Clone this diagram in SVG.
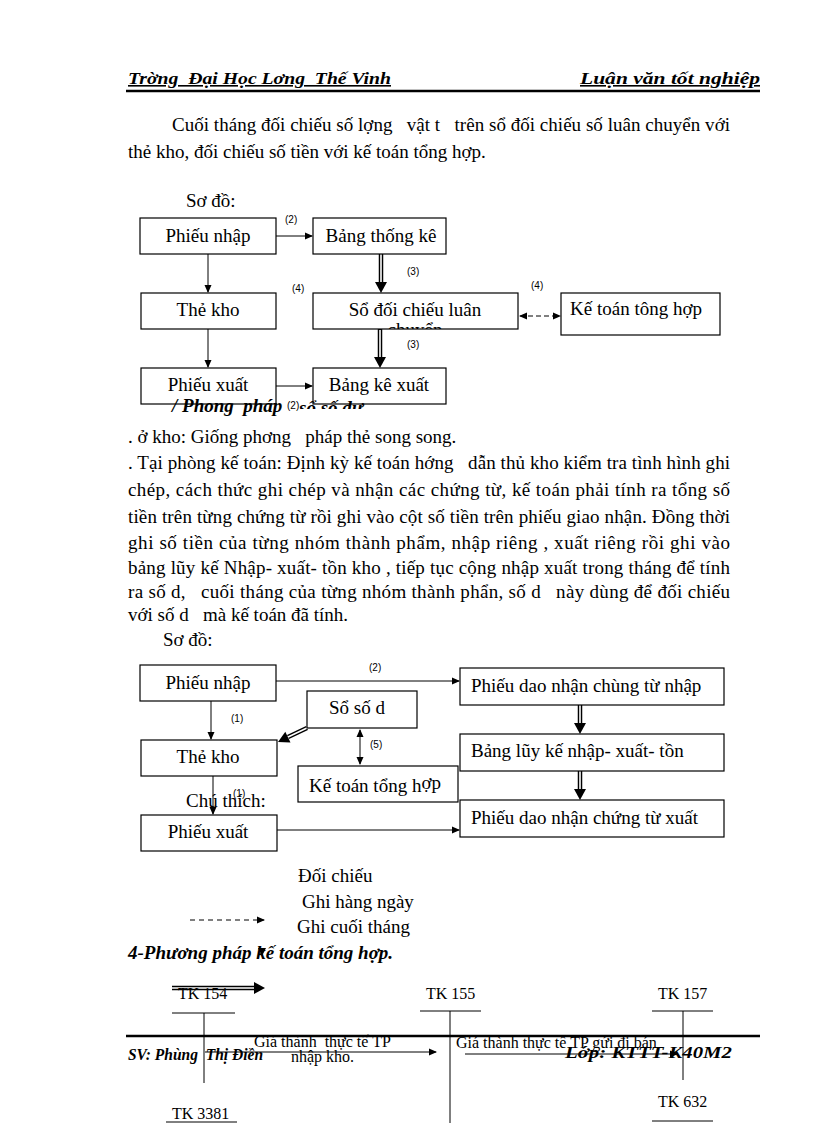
<svg xmlns="http://www.w3.org/2000/svg" width="816" height="1123" viewBox="0 0 816 1123">
<defs>
<marker id="ah" markerWidth="8" markerHeight="8" refX="7" refY="4" orient="auto" markerUnits="userSpaceOnUse"><path d="M0,0.5 L8,4 L0,7.5 Z" fill="#000"/></marker>
<marker id="ahs" markerWidth="8" markerHeight="8" refX="1" refY="4" orient="auto" markerUnits="userSpaceOnUse"><path d="M8,0.5 L0,4 L8,7.5 Z" fill="#000"/></marker>
<clipPath id="clip1"><rect x="313" y="318" width="205" height="11"/></clipPath>
<clipPath id="clip2"><rect x="292" y="396" width="120" height="13"/></clipPath>
<style>
text{white-space:pre}
.t{font-family:"Liberation Serif","Times New Roman",serif;font-size:19px;fill:#000}
.bx{fill:#fff;stroke:#000;stroke-width:1.2}
.sm{font-family:"Liberation Sans",Arial,sans-serif;font-size:10px;fill:#000}
.ln{stroke:#000;stroke-width:1;fill:none}
.dbo{stroke:#000;stroke-width:4.5;fill:none}
.dbi{stroke:#fff;stroke-width:1.6;fill:none}
.hd{font-family:"Liberation Serif","Times New Roman",serif;font-style:italic;font-weight:bold;font-size:16px;fill:#000}
.bi{font-family:"Liberation Serif","Times New Roman",serif;font-style:italic;font-weight:bold;font-size:19px;fill:#000}
.tk{font-family:"Liberation Serif","Times New Roman",serif;font-size:16px;fill:#000}
</style>
</defs>
<rect width="816" height="1123" fill="#fff"/>

<g id="header">
<text class="hd" x="128" y="84" text-decoration="underline" textLength="263" lengthAdjust="spacingAndGlyphs">Trờng&#160;&#160;Đại Học Lơng&#160;&#160;Thế Vinh</text>
<text class="hd" x="580" y="84" text-decoration="underline" textLength="180" lengthAdjust="spacingAndGlyphs">Luận văn tốt nghiệp</text>
<line x1="126" y1="91" x2="760" y2="91" stroke="#000" stroke-width="2.5"/>
</g>

<g id="para1">
<text class="t" x="172" y="131" textLength="558" lengthAdjust="spacing">Cuối tháng đối chiếu số lợng&#160;&#160;&#160;vật t&#160;&#160;&#160;trên sổ đối chiếu số luân chuyển với</text>
<text class="t" x="128" y="158">thẻ kho, đối chiếu số tiền với kế toán tổng hợp.</text>
<text class="t" x="186" y="207">Sơ đồ:</text>
</g>

<g id="connectors1">
<line class="ln" x1="276" y1="236" x2="312" y2="236" marker-end="url(#ah)"/>
<text class="sm" x="285" y="223">(2)</text>
<line class="ln" x1="208" y1="254" x2="208" y2="292" marker-end="url(#ah)"/>
<line class="ln" x1="208" y1="329" x2="208" y2="367" marker-end="url(#ah)"/>
<line class="dbo" x1="381" y1="254" x2="381" y2="283"/>
<line class="dbi" x1="381" y1="253" x2="381" y2="284"/>
<polygon points="375,282 387,282 381,293" fill="#000"/>
<text class="sm" x="407" y="275">(3)</text>
<line class="dbo" x1="380" y1="329" x2="380" y2="358"/>
<line class="dbi" x1="380" y1="330" x2="380" y2="359"/>
<polygon points="374,357 386,357 380,368" fill="#000"/>
<text class="sm" x="407" y="348">(3)</text>
<text class="sm" x="292" y="292">(4)</text>
<text class="sm" x="531" y="289">(4)</text>
<line class="ln" x1="520" y1="316" x2="560" y2="316" stroke-dasharray="5,3" marker-start="url(#ahs)" marker-end="url(#ah)"/>
<line class="ln" x1="276" y1="386" x2="312" y2="386" marker-end="url(#ah)"/>
</g>

<g id="n_phieunhap1"><rect class="bx" x="140" y="218" width="136" height="36"/><text class="t" x="208" y="242" text-anchor="middle">Phiếu nhập</text></g>
<g id="n_bangthongke"><rect class="bx" x="313" y="218" width="133" height="36"/><text class="t" x="381" y="242" text-anchor="middle">Bảng thống kê</text></g>
<g id="n_thekho1"><rect class="bx" x="141" y="293" width="135" height="36"/><text class="t" x="208" y="316" text-anchor="middle">Thẻ kho</text></g>
<g id="n_sodoichieu"><rect class="bx" x="313" y="293" width="205" height="36"/><text class="t" x="415" y="316" text-anchor="middle">Sổ đối chiếu luân</text><text class="t" x="415" y="336" text-anchor="middle" clip-path="url(#clip1)">chuyển</text></g>
<g id="n_ketoan1"><rect class="bx" x="561" y="293" width="159" height="42"/><text class="t" x="636" y="315" text-anchor="middle">Kế toán tông hợp</text></g>
<g id="n_phieuxuat1"><rect class="bx" x="141" y="368" width="135" height="36"/><text class="t" x="208" y="391" text-anchor="middle">Phiếu xuất</text></g>
<g id="n_bangkexuat"><rect class="bx" x="313" y="368" width="133" height="36" stroke-width="2"/><text class="t" x="379" y="391" text-anchor="middle">Bảng kê xuất</text></g>

<g id="heading3">
<text class="bi" x="172" y="412">/ Phong&#160;&#160;pháp</text>
<text class="sm" x="287" y="409">(2)</text>
<text class="bi" x="299" y="414" font-size="17" clip-path="url(#clip2)">sổ số dư</text>
</g>

<g id="para2">
<text class="t" x="128" y="443">. ở kho: Giống phơng&#160;&#160;&#160;pháp thẻ song song.</text>
<text class="t" x="128" y="469" textLength="602" lengthAdjust="spacing">. Tại phòng kế toán: Định kỳ kế toán hớng&#160;&#160;&#160;dẫn thủ kho kiểm tra tình hình ghi</text>
<text class="t" x="128" y="496" textLength="602" lengthAdjust="spacing">chép, cách thức ghi chép và nhận các chứng từ, kế toán phải tính ra tổng số</text>
<text class="t" x="128" y="523" textLength="602" lengthAdjust="spacing">tiền trên từng chứng từ rồi ghi vào cột số tiền trên phiếu giao nhận. Đồng thời</text>
<text class="t" x="128" y="549" textLength="602" lengthAdjust="spacing">ghi số tiền của từng nhóm thành phẩm, nhập riêng , xuất riêng rồi ghi vào</text>
<text class="t" x="128" y="574" textLength="602" lengthAdjust="spacing">bảng lũy kế Nhập- xuất- tồn kho , tiếp tục cộng nhập xuất trong tháng để tính</text>
<text class="t" x="128" y="598" textLength="602" lengthAdjust="spacing">ra số d,&#160;&#160;&#160;cuối tháng của từng nhóm thành phẩn, số d&#160;&#160;&#160;này dùng để đối chiếu</text>
<text class="t" x="128" y="621">với số d&#160;&#160;&#160;mà kế toán đã tính.</text>
<text class="t" x="163" y="646">Sơ đồ:</text>
</g>

<g id="connectors2">
<line class="ln" x1="276" y1="681" x2="459" y2="681" marker-end="url(#ah)"/>
<text class="sm" x="369" y="671">(2)</text>
<line class="ln" x1="211" y1="701" x2="211" y2="739" marker-end="url(#ah)"/>
<text class="sm" x="231" y="722">(1)</text>
<line class="dbo" x1="307" y1="728" x2="288" y2="737"/>
<line class="dbi" x1="308" y1="727.5" x2="287" y2="737.5"/>
<polygon points="290.5,742.6 285.3,731.8 278,742" fill="#000"/>
<line class="ln" x1="360" y1="730" x2="360" y2="764" marker-start="url(#ahs)" marker-end="url(#ah)"/>
<text class="sm" x="370" y="748">(5)</text>
<line class="dbo" x1="580" y1="705" x2="580" y2="724"/>
<line class="dbi" x1="580" y1="704" x2="580" y2="725"/>
<polygon points="574,723 586,723 580,734" fill="#000"/>
<line class="dbo" x1="580" y1="771" x2="580" y2="790"/>
<line class="dbi" x1="580" y1="770" x2="580" y2="791"/>
<polygon points="574,789 586,789 580,800" fill="#000"/>
<line class="ln" x1="213" y1="776" x2="213" y2="814" marker-end="url(#ah)"/>
<line class="ln" x1="277" y1="830" x2="459" y2="830" marker-end="url(#ah)"/>
</g>

<g id="n_phieunhap2"><rect class="bx" x="140" y="665" width="136" height="36"/><text class="t" x="208" y="689" text-anchor="middle">Phiếu nhập</text></g>
<g id="n_phieudaonhap"><rect class="bx" x="460" y="668" width="264" height="37"/><text class="t" x="471" y="692">Phiếu dao nhận chùng từ nhập</text></g>
<g id="n_sosod"><rect class="bx" x="307" y="691" width="110" height="37"/><text class="t" x="357" y="714" text-anchor="middle">Sổ số d</text></g>
<g id="n_thekho2"><rect class="bx" x="141" y="740" width="136" height="36"/><text class="t" x="208" y="763" text-anchor="middle">Thẻ kho</text></g>
<g id="n_bangluyke"><rect class="bx" x="460" y="734" width="264" height="37"/><text class="t" x="471" y="757">Bảng lũy kế nhập- xuất- tồn</text></g>
<g id="n_ketoan2"><rect class="bx" x="298" y="766" width="160" height="36"/><text class="t" x="309" y="792">Kế toán tổng h<tspan dy="-3">ợp</tspan></text></g>
<g id="n_phieudaoxuat"><rect class="bx" x="460" y="800" width="264" height="37"/><text class="t" x="471" y="824">Phiếu dao nhận chứng từ xuất</text></g>
<g id="n_phieuxuat2"><rect class="bx" x="141" y="815" width="136" height="36"/><text class="t" x="208" y="838" text-anchor="middle">Phiếu xuất</text></g>

<g id="legend">
<text class="t" x="186" y="807">Chú thích:</text>
<text class="sm" x="233" y="797">(1)</text>
<text class="t" x="298" y="882">Đối chiếu</text>
<text class="t" x="302" y="908">Ghi hàng ngày</text>
<line class="ln" x1="190" y1="920" x2="264" y2="920" stroke-dasharray="5,4" marker-end="url(#ah)"/>
<text class="t" x="297" y="933">Ghi cuối tháng</text>
</g>

<g id="heading4">
<text class="bi" x="128" y="959">4-Phương pháp kế toán tổng hợp.</text>
<polygon points="258,948 266,948 262,956" fill="#000"/>
</g>

<g id="taccounts">
<line class="dbo" x1="172" y1="988" x2="256" y2="988"/>
<line class="dbi" x1="171" y1="988" x2="257" y2="988"/>
<polygon points="254,982 254,994 265,988" fill="#000"/>
<text class="tk" x="178" y="999">TK 154</text>
<line class="ln" x1="172" y1="1013" x2="235" y2="1013"/>
<line class="ln" x1="204" y1="1013" x2="204" y2="1083"/>
<text class="tk" x="426" y="999">TK 155</text>
<line class="ln" x1="420" y1="1011" x2="481" y2="1011"/>
<line class="ln" x1="450" y1="1011" x2="450" y2="1123"/>
<text class="tk" x="658" y="999">TK 157</text>
<line class="ln" x1="652" y1="1011" x2="713" y2="1011"/>
<line class="ln" x1="683" y1="1011" x2="683" y2="1080"/>
<text class="tk" x="658" y="1107">TK 632</text>
<line class="ln" x1="652" y1="1121" x2="713" y2="1121"/>
<text class="tk" x="172" y="1119">TK 3381</text>
<line class="ln" x1="166" y1="1122" x2="237" y2="1122"/>
</g>

<g id="footer">
<line x1="126" y1="1036" x2="760" y2="1036" stroke="#000" stroke-width="2.5"/>
<text class="hd" x="128" y="1060" textLength="135" lengthAdjust="spacingAndGlyphs">SV: Phùng&#160;&#160;Thị Điền</text>
<text class="hd" x="565" y="1058" textLength="167" lengthAdjust="spacingAndGlyphs">Lớp: KTTT-K40M2</text>
</g>

<g id="tlabels">
<text class="tk" x="254" y="1047" font-size="14">Giá thành&#160;&#160;thực tế TP</text>
<text class="tk" x="291" y="1062" font-size="14">nhập kho.</text>
<line class="ln" x1="205" y1="1052" x2="436" y2="1052" marker-end="url(#ah)"/>
<text class="tk" x="456" y="1048" font-size="14">Giá thành thực tế TP gửi đi bán</text>
<line class="ln" x1="465" y1="1054" x2="677" y2="1054" marker-end="url(#ah)"/>
</g>
</svg>
